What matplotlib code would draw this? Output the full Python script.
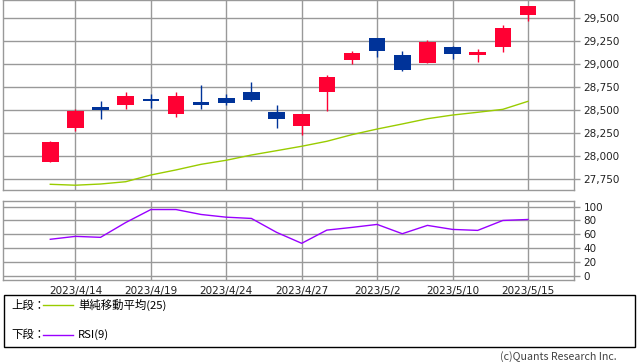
import matplotlib as mpl
import matplotlib.pyplot as plt
from matplotlib.lines import Line2D
from matplotlib.patches import Rectangle
import numpy as np

dates = [
    "2023/4/13", "2023/4/14", "2023/4/17", "2023/4/18", "2023/4/19",
    "2023/4/20", "2023/4/21", "2023/4/24", "2023/4/25", "2023/4/26",
    "2023/4/27", "2023/4/28", "2023/5/1", "2023/5/2", "2023/5/8",
    "2023/5/9", "2023/5/10", "2023/5/11", "2023/5/12", "2023/5/15",
]
opens = [27938, 28306, 28531, 28556, 28618, 28458, 28585, 28629, 28694, 28477,
         28328, 28697, 29041, 29280, 29095, 29012, 29182, 29095, 29182, 29529]
highs = [28165, 28506, 28596, 28694, 28672, 28694, 28770, 28672, 28802, 28556,
         28455, 28878, 29139, 29280, 29139, 29258, 29196, 29160, 29421, 29627]
lows = [27938, 28271, 28404, 28509, 28517, 28423, 28513, 28556, 28599, 28306,
        28227, 28491, 29001, 29077, 28922, 29012, 29052, 29019, 29128, 29464]
closes = [28151, 28488, 28499, 28650, 28596, 28650, 28556, 28578, 28610, 28404,
          28455, 28857, 29117, 29139, 28933, 29236, 29106, 29128, 29388, 29627]
sma25 = [27692, 27682, 27695, 27720, 27793, 27848, 27909, 27953, 28010, 28057,
         28105, 28159, 28231, 28292, 28347, 28404, 28444, 28474, 28506, 28593]
rsi9 = [52.9, 57.1, 55.7, 77.0, 95.7, 95.7, 88.6, 84.7, 82.9, 62.9,
        47.1, 66.1, 70.0, 74.3, 60.9, 72.9, 67.1, 65.7, 80.0, 81.4]

tick_idx = [1, 4, 7, 10, 13, 16, 19]
price_ticks = [27750, 28000, 28250, 28500, 28750, 29000, 29250, 29500]
rsi_ticks = [0, 20, 40, 60, 80, 100]

UP = "#ff0033"
DOWN = "#003399"
GRID = "#999999"
W, H = 638, 362

mpl.rcParams.update({
    "font.family": ["DejaVu Sans", "Noto Sans CJK JP"],
    "font.size": 7.5,
})

fig = plt.figure(figsize=(W / 100, H / 100), dpi=100)


def axes_px(left, top, right, bottom):
    return fig.add_axes([left / W, 1 - bottom / H, (right - left) / W, (bottom - top) / H])


ax = axes_px(3, 0.3, 574, 190)
ax2 = axes_px(3, 201, 574, 280)

x = np.arange(len(dates))
o = np.array(opens)
c = np.array(closes)
colors = [UP if cc >= oo else DOWN for oo, cc in zip(o, c)]

ax.plot(x, sma25, color="#99cc00", linewidth=1.0, zorder=2)
ax.vlines(x, lows, highs, colors=colors, linewidth=1.0, zorder=3)
ax.bar(x, np.abs(c - o), bottom=np.minimum(o, c), width=0.66, color=colors,
       linewidth=0, zorder=4)
ax.set_ylim(27630, 29690)
ax.set_yticks(price_ticks)
ax.yaxis.set_major_formatter(mpl.ticker.FuncFormatter(lambda v, _: f"{v:,.0f}"))

ax2.plot(x, rsi9, color="#9900ff", linewidth=1.0, zorder=3)
ax2.set_ylim(-5.7, 108)
ax2.set_yticks(rsi_ticks)

for a in (ax, ax2):
    a.set_xlim(-1.88, 20.83)
    a.set_xticks(tick_idx)
    a.grid(True, color=GRID, linewidth=1.0)
    a.set_axisbelow(True)
    a.yaxis.tick_right()
    a.tick_params(axis="y", length=4, width=1.0, color=GRID, pad=3, labelcolor="#222222")
    a.tick_params(axis="x", length=0, pad=4, labelcolor="#222222")
    for s in a.spines.values():
        s.set_color(GRID)
        s.set_linewidth(1.0)

ax.set_xticklabels([])
ax2.set_xticklabels([dates[i] for i in tick_idx])

# legend box
fig.add_artist(Rectangle((3.5 / W, 1 - 347 / H), 631 / W, 52.5 / H,
                         transform=fig.transFigure, fill=False,
                         edgecolor="black", linewidth=1.0))
jp = ["Noto Sans CJK JP", "DejaVu Sans"]
for yy, label, name, col in [(305, "上段：", "単純移動平均(25)", "#99cc00"),
                             (335, "下段：", "RSI(9)", "#9900ff")]:
    fig.text(11 / W, 1 - yy / H, label, family=jp, fontsize=8.2, va="center")
    fig.add_artist(Line2D([43 / W, 73 / W], [1 - yy / H, 1 - yy / H],
                          transform=fig.transFigure, color=col, linewidth=1.0))
    fig.text(78 / W, 1 - yy / H, name, family=jp, fontsize=8.2, va="center")

fig.text(617 / W, 1 - 357 / H, "(c)Quants Research Inc.", family=jp,
         fontsize=7.7, ha="right", va="center", color="#444444")

fig.savefig("out.png", dpi=100)
